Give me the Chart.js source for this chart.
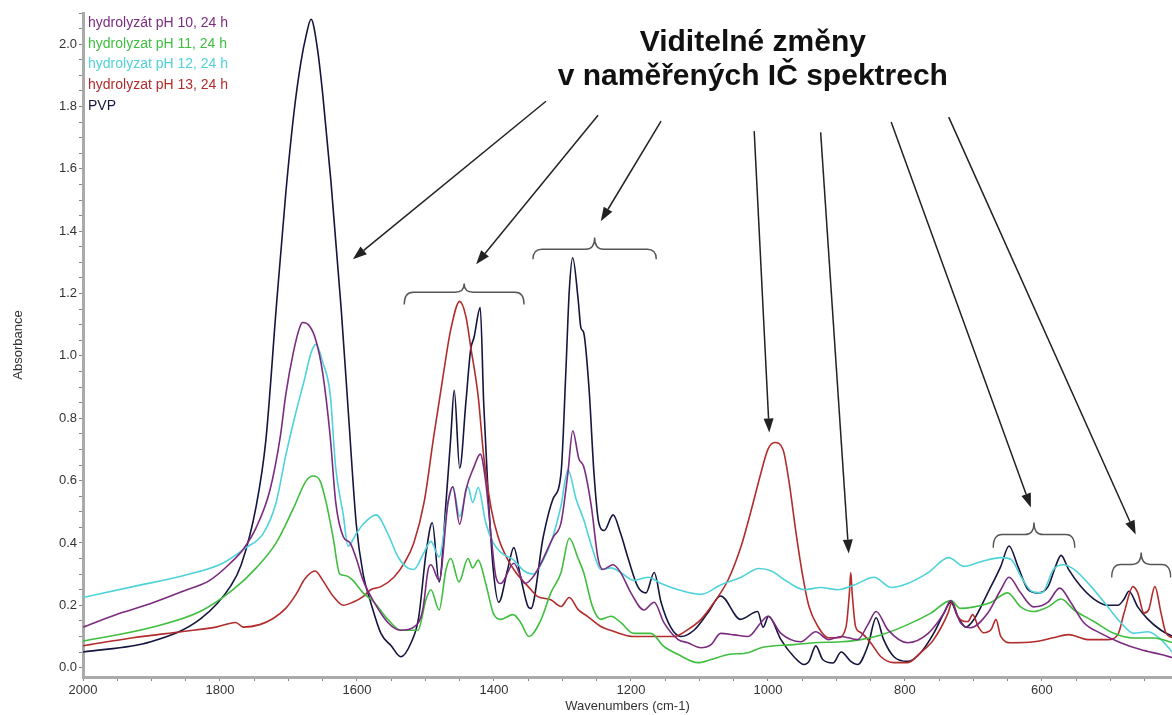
<!DOCTYPE html>
<html>
<head>
<meta charset="utf-8">
<title>IČ spektra hydrolyzátů</title>
<script src="https://cdn.jsdelivr.net/npm/chart.js@4.4.1/dist/chart.umd.min.js"></script>
<style>
  html, body { margin: 0; padding: 0; background: #fff; }
  canvas { display: block; }
</style>
</head>
<body>
<canvas id="spectraChart" width="1172" height="715"></canvas>
<script>
// spectra as [wavenumber (cm-1), absorbance]
const ph10Spectrum = [[2000,0.13],[1952,0.17],[1902,0.205],[1854,0.245],[1815,0.28],[1785,0.335],[1766,0.38],[1747,0.45],[1727,0.57],[1712,0.74],[1704,0.875],[1693,1.01],[1683,1.095],[1679,1.107],[1669,1.095],[1660,1.05],[1650,0.945],[1639,0.74],[1631,0.53],[1620,0.42],[1610,0.40],[1601,0.35],[1591,0.28],[1575,0.21],[1555,0.145],[1536,0.12],[1517,0.13],[1504,0.185],[1496,0.315],[1492,0.33],[1480,0.28],[1467,0.53],[1460,0.58],[1450,0.46],[1441,0.57],[1429,0.645],[1420,0.685],[1412,0.595],[1404,0.42],[1397,0.29],[1390,0.27],[1371,0.335],[1355,0.27],[1340,0.30],[1313,0.42],[1302,0.465],[1292,0.625],[1285,0.76],[1276,0.67],[1269,0.645],[1258,0.52],[1248,0.35],[1241,0.315],[1226,0.33],[1215,0.305],[1200,0.24],[1181,0.185],[1166,0.21],[1152,0.145],[1131,0.09],[1117,0.08],[1098,0.064],[1083,0.074],[1069,0.11],[1049,0.105],[1029,0.10],[1010,0.145],[1000,0.165],[981,0.11],[952,0.083],[930,0.115],[912,0.09],[893,0.10],[869,0.09],[854,0.138],[842,0.18],[825,0.122],[796,0.08],[766,0.11],[743,0.175],[733,0.215],[719,0.145],[704,0.128],[679,0.175],[660,0.25],[648,0.29],[631,0.24],[612,0.195],[591,0.21],[574,0.255],[558,0.21],[539,0.145],[514,0.11],[485,0.08],[456,0.058],[426,0.042],[409,0.032]];

const ph11Spectrum = [[2000,0.085],[1902,0.128],[1829,0.18],[1781,0.25],[1747,0.32],[1718,0.40],[1693,0.51],[1674,0.60],[1664,0.615],[1654,0.60],[1645,0.53],[1635,0.42],[1625,0.30],[1616,0.295],[1606,0.28],[1591,0.24],[1575,0.21],[1555,0.155],[1536,0.12],[1511,0.12],[1499,0.22],[1492,0.25],[1480,0.185],[1470,0.315],[1463,0.35],[1451,0.275],[1438,0.35],[1431,0.32],[1423,0.345],[1412,0.27],[1401,0.175],[1390,0.155],[1372,0.17],[1361,0.145],[1349,0.10],[1331,0.155],[1317,0.24],[1302,0.305],[1290,0.415],[1277,0.35],[1269,0.305],[1256,0.195],[1244,0.155],[1229,0.165],[1215,0.145],[1196,0.11],[1171,0.11],[1152,0.068],[1131,0.042],[1102,0.016],[1083,0.026],[1058,0.042],[1029,0.048],[1010,0.064],[1000,0.068],[962,0.074],[933,0.08],[893,0.083],[864,0.09],[835,0.105],[796,0.138],[762,0.175],[733,0.215],[719,0.19],[699,0.195],[674,0.21],[650,0.24],[631,0.195],[612,0.18],[591,0.195],[572,0.22],[553,0.185],[524,0.148],[495,0.11],[466,0.095],[437,0.095],[409,0.08]];

const ph12Spectrum = [[2000,0.225],[1927,0.26],[1854,0.295],[1796,0.335],[1762,0.385],[1737,0.43],[1718,0.53],[1704,0.68],[1689,0.82],[1676,0.93],[1667,1.01],[1660,1.037],[1650,0.98],[1639,0.875],[1631,0.64],[1620,0.49],[1613,0.39],[1601,0.43],[1591,0.46],[1572,0.49],[1555,0.43],[1540,0.355],[1526,0.32],[1517,0.315],[1502,0.37],[1492,0.405],[1480,0.355],[1467,0.53],[1460,0.58],[1450,0.485],[1438,0.58],[1431,0.53],[1423,0.578],[1412,0.465],[1401,0.40],[1390,0.37],[1371,0.345],[1356,0.31],[1343,0.30],[1328,0.345],[1314,0.42],[1302,0.52],[1292,0.635],[1280,0.54],[1269,0.475],[1256,0.38],[1244,0.315],[1229,0.32],[1215,0.305],[1196,0.28],[1175,0.29],[1156,0.27],[1131,0.25],[1098,0.235],[1069,0.265],[1039,0.29],[1013,0.318],[995,0.31],[971,0.275],[947,0.25],[923,0.257],[898,0.25],[874,0.265],[845,0.29],[820,0.257],[796,0.27],[766,0.305],[736,0.353],[714,0.325],[689,0.34],[660,0.353],[645,0.347],[630,0.29],[615,0.245],[600,0.24],[583,0.315],[569,0.33],[553,0.315],[528,0.26],[504,0.196],[485,0.145],[466,0.11],[445,0.115],[426,0.09],[409,0.048]];

const ph13Spectrum = [[2000,0.07],[1927,0.096],[1854,0.116],[1806,0.13],[1777,0.145],[1766,0.13],[1742,0.138],[1723,0.157],[1704,0.19],[1689,0.235],[1676,0.285],[1661,0.31],[1650,0.28],[1635,0.23],[1620,0.20],[1606,0.21],[1591,0.228],[1580,0.25],[1565,0.26],[1546,0.29],[1531,0.335],[1517,0.40],[1502,0.53],[1488,0.74],[1475,0.925],[1463,1.085],[1450,1.175],[1441,1.127],[1434,1.03],[1423,0.87],[1415,0.68],[1404,0.51],[1394,0.42],[1380,0.347],[1368,0.305],[1350,0.26],[1336,0.228],[1317,0.218],[1302,0.196],[1290,0.225],[1277,0.186],[1263,0.164],[1244,0.132],[1225,0.116],[1196,0.10],[1166,0.10],[1137,0.10],[1117,0.122],[1098,0.154],[1079,0.208],[1058,0.282],[1039,0.39],[1025,0.50],[1010,0.626],[1000,0.70],[990,0.722],[978,0.70],[969,0.594],[959,0.433],[949,0.292],[940,0.196],[927,0.132],[912,0.096],[898,0.096],[886,0.13],[881,0.24],[879,0.305],[877,0.24],[872,0.132],[864,0.112],[850,0.08],[835,0.035],[816,0.016],[796,0.016],[777,0.048],[758,0.09],[737,0.175],[731,0.212],[723,0.164],[708,0.148],[701,0.17],[693,0.132],[685,0.112],[674,0.122],[667,0.154],[660,0.10],[645,0.08],[612,0.083],[583,0.096],[561,0.106],[533,0.09],[504,0.09],[489,0.106],[480,0.175],[467,0.26],[460,0.24],[451,0.175],[444,0.186],[435,0.26],[426,0.175],[419,0.112],[409,0.096]];

const pvpSpectrum = [[2000,0.05],[1901,0.083],[1828,0.157],[1784,0.263],[1769,0.33],[1747,0.52],[1733,0.73],[1718,1.15],[1704,1.52],[1692,1.78],[1682,1.94],[1674,2.03],[1667,2.08],[1658,1.99],[1650,1.84],[1638,1.56],[1623,1.15],[1612,0.80],[1601,0.46],[1591,0.30],[1580,0.21],[1565,0.11],[1550,0.07],[1536,0.035],[1521,0.08],[1510,0.16],[1499,0.37],[1490,0.465],[1480,0.275],[1470,0.53],[1463,0.74],[1458,0.89],[1450,0.64],[1441,0.85],[1434,1.02],[1429,1.06],[1420,1.155],[1415,0.85],[1409,0.58],[1401,0.315],[1393,0.21],[1380,0.315],[1371,0.385],[1361,0.29],[1350,0.195],[1346,0.19],[1328,0.42],[1314,0.54],[1302,0.625],[1295,0.95],[1290,1.21],[1285,1.315],[1277,1.18],[1273,1.09],[1269,1.075],[1261,0.89],[1254,0.625],[1247,0.465],[1239,0.44],[1226,0.49],[1215,0.43],[1204,0.35],[1190,0.26],[1178,0.24],[1166,0.305],[1156,0.21],[1142,0.13],[1127,0.10],[1108,0.12],[1088,0.175],[1069,0.23],[1040,0.155],[1015,0.18],[1007,0.13],[999,0.165],[981,0.09],[962,0.035],[947,0.01],[940,0.02],[930,0.07],[920,0.026],[905,0.015],[893,0.05],[879,0.02],[869,0.01],[854,0.07],[842,0.16],[831,0.09],[816,0.035],[796,0.02],[777,0.048],[758,0.11],[743,0.175],[733,0.21],[723,0.165],[711,0.13],[699,0.155],[679,0.24],[660,0.325],[648,0.39],[635,0.325],[620,0.25],[606,0.24],[591,0.26],[580,0.325],[572,0.36],[561,0.315],[543,0.26],[524,0.22],[504,0.20],[489,0.20],[480,0.22],[473,0.245],[460,0.195],[445,0.155],[426,0.12],[409,0.10]];

const seriesLabels = ['hydrolyzát pH 10, 24 h', 'hydrolyzat pH 11, 24 h', 'hydrolyzat pH 12, 24 h', 'hydrolyzat pH 13, 24 h', 'PVP'];
const seriesColors = ['#7b2c80', '#3fbe3f', '#4fd2da', '#b22c2c', '#15153f'];
const seriesData = [ph10Spectrum, ph11Spectrum, ph12Spectrum, ph13Spectrum, pvpSpectrum];

const wavenumberTicks = [2000, 1800, 1600, 1400, 1200, 1000, 800, 600];
const absorbanceTicks = [0.0, 0.2, 0.4, 0.6, 0.8, 1.0, 1.2, 1.4, 1.6, 1.8, 2.0];

// annotation: headline, arrows [fromWn, fromAbs, toWn, toAbs], braces [leftWn, rightWn, lineAbs, endAbs, tipAbs]
const headline = ['Viditelné změny', 'v naměřených IČ spektrech'];
const headlineAt = [1022, 2.006, 1.894];
const noteArrows = [
  [1324, 1.817, 1606, 1.31],
  [1248, 1.772, 1426, 1.294],
  [1156, 1.753, 1244, 1.432],
  [1020, 1.721, 998, 0.754],
  [923, 1.717, 882, 0.366],
  [820, 1.75, 616, 0.514],
  [736, 1.766, 463, 0.427]
];
const noteBraces = [
  [1531, 1356, 1.204, 1.165, 1.232],
  [1343, 1163, 1.342, 1.31, 1.38],
  [671, 552, 0.427, 0.385, 0.466],
  [498, 412, 0.331, 0.289, 0.369]
];

const FONT = '"Liberation Sans", Arial, sans-serif';
Chart.defaults.font.family = FONT;

function drawArrow(c, x1, y1, x2, y2) {
  const ang = Math.atan2(y2 - y1, x2 - x1);
  const len = 14, half = 5;
  const bx = x2 - len * Math.cos(ang), by = y2 - len * Math.sin(ang);
  c.beginPath();
  c.moveTo(x1, y1);
  c.lineTo(bx, by);
  c.stroke();
  c.beginPath();
  c.moveTo(x2, y2);
  c.lineTo(bx + half * Math.sin(ang), by - half * Math.cos(ang));
  c.lineTo(bx - half * Math.sin(ang), by + half * Math.cos(ang));
  c.closePath();
  c.fill();
}

function drawBrace(c, xl, xr, yLine, yEnd, yTip) {
  const xm = (xl + xr) / 2;
  const r = 9;
  c.beginPath();
  c.moveTo(xl, yEnd);
  c.quadraticCurveTo(xl, yLine, xl + r, yLine);
  c.lineTo(xm - r, yLine);
  c.quadraticCurveTo(xm, yLine, xm, yTip);
  c.quadraticCurveTo(xm, yLine, xm + r, yLine);
  c.lineTo(xr - r, yLine);
  c.quadraticCurveTo(xr, yLine, xr, yEnd);
  c.stroke();
}

const notesPlugin = {
  id: 'notes',
  afterDraw(chart) {
    const c = chart.ctx;
    const xs = chart.scales.x, ys = chart.scales.y;
    const area = chart.chartArea;
    c.save();

    // legend text in the upper left corner
    c.font = '14px ' + FONT;
    c.textAlign = 'left';
    c.textBaseline = 'middle';
    seriesLabels.forEach((label, i) => {
      c.fillStyle = seriesColors[i];
      c.fillText(label, area.left + 5, area.top + 10 + i * 20.7);
    });

    // axis titles
    c.fillStyle = '#333';
    c.font = '13px ' + FONT;
    c.textAlign = 'center';
    c.fillText('Wavenumbers (cm-1)', (area.left + area.right) / 2, 706);
    c.save();
    c.translate(18, (area.top + area.bottom) / 2);
    c.rotate(-Math.PI / 2);
    c.fillText('Absorbance', 0, 0);
    c.restore();

    // headline
    c.fillStyle = '#111';
    c.font = 'bold 30px ' + FONT;
    c.textBaseline = 'middle';
    const hx = xs.getPixelForValue(headlineAt[0]);
    c.fillText(headline[0], hx, ys.getPixelForValue(headlineAt[1]));
    c.fillText(headline[1], hx, ys.getPixelForValue(headlineAt[2]));

    // arrows
    c.strokeStyle = '#222';
    c.fillStyle = '#222';
    c.lineWidth = 1.5;
    noteArrows.forEach(a => {
      drawArrow(c, xs.getPixelForValue(a[0]), ys.getPixelForValue(a[1]),
        xs.getPixelForValue(a[2]), ys.getPixelForValue(a[3]));
    });

    // braces
    c.strokeStyle = '#555';
    c.lineWidth = 1.4;
    noteBraces.forEach(b => {
      drawBrace(c, xs.getPixelForValue(b[0]), xs.getPixelForValue(b[1]),
        ys.getPixelForValue(b[2]), ys.getPixelForValue(b[3]), ys.getPixelForValue(b[4]));
    });
    c.restore();
  }
};

const datasets = seriesData.map((spectrum, i) => ({
  label: seriesLabels[i],
  data: spectrum.map(p => ({ x: p[0], y: p[1] })),
  borderColor: seriesColors[i],
  borderWidth: 1.6,
  pointRadius: 0,
  fill: false,
  cubicInterpolationMode: 'monotone'
}));

function minorTicks(from, to, step) {
  const out = [];
  for (let v = from; v >= to - 1e-9; v -= step) out.push({ value: Math.round(v * 1000) / 1000 });
  return out;
}

new Chart(document.getElementById('spectraChart').getContext('2d'), {
  type: 'line',
  data: { datasets },
  options: {
    responsive: false,
    animation: false,
    layout: { padding: { top: 13, right: 0, left: 0, bottom: 0 } },
    plugins: { legend: { display: false }, tooltip: { enabled: false } },
    scales: {
      x: {
        type: 'linear',
        reverse: true,
        min: 410,
        max: 2000,
        afterBuildTicks: scale => { scale.ticks = minorTicks(2000, 450, 50); },
        afterFit: scale => { scale.height = 38; },
        border: { color: '#aaaaaa', width: 3 },
        grid: { drawOnChartArea: false, tickLength: 4, color: '#888' },
        ticks: {
          autoSkip: false,
          maxRotation: 0,
          padding: 2,
          color: '#333',
          font: { size: 13 },
          callback: v => wavenumberTicks.includes(v) ? String(v) : ''
        }
      },
      y: {
        type: 'linear',
        min: -0.03,
        max: 2.1,
        afterBuildTicks: scale => { scale.ticks = minorTicks(2.1, 0, 0.05).reverse(); },
        afterFit: scale => { scale.width = 83; },
        border: { color: '#aaaaaa', width: 3 },
        grid: { drawOnChartArea: false, tickLength: 4, color: '#888' },
        ticks: {
          autoSkip: false,
          padding: 2,
          color: '#333',
          font: { size: 13 },
          callback: v => absorbanceTicks.some(t => Math.abs(t - v) < 1e-6) ? v.toFixed(1) : ''
        }
      }
    }
  },
  plugins: [notesPlugin]
});
</script>
</body>
</html>
